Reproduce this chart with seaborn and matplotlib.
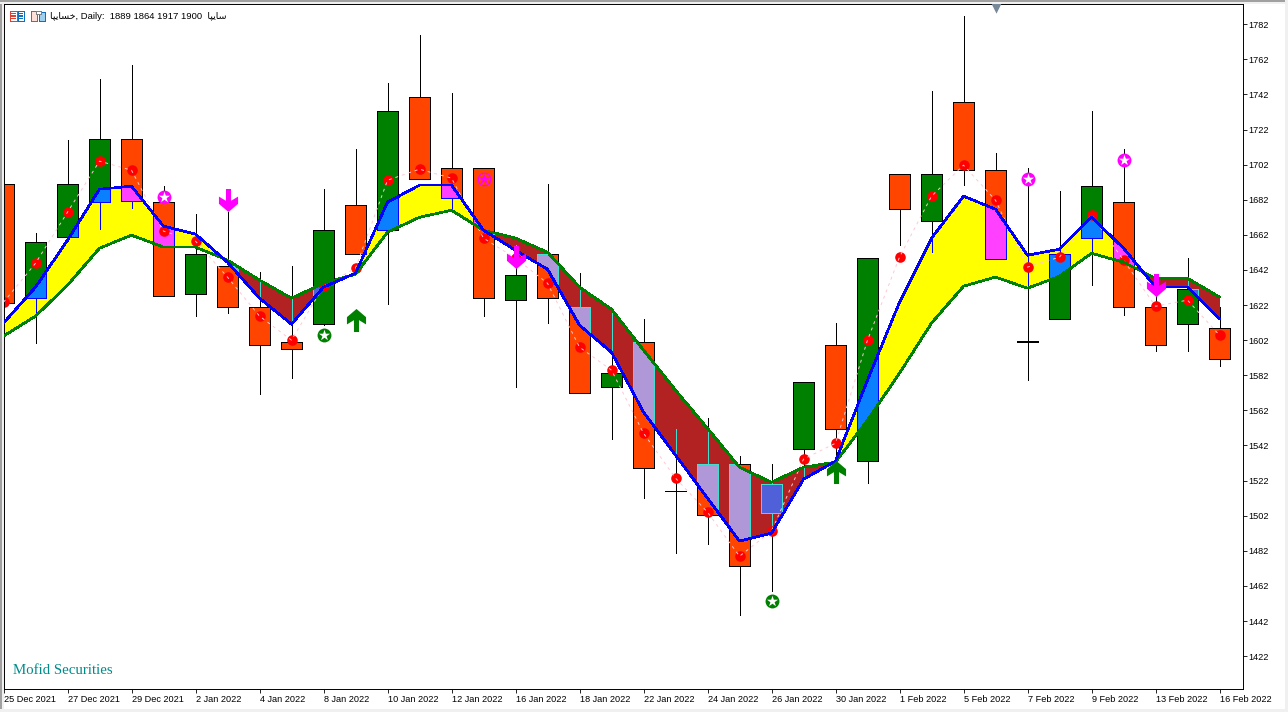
import numpy as np
import seaborn as sns
import matplotlib.pyplot as plt
from matplotlib.path import Path

# Daily candles
opens = [1690.8, 1625.9, 1660.7, 1680.6, 1716.5, 1680.6, 1628.2, 1644.1, 1620.8, 1600.8,
         1611.1, 1678.9, 1664.6, 1740.4, 1700.0, 1700.0, 1624.8, 1651.0, 1620.8, 1575.2,
         1600.8, 1515.9, 1531.3, 1531.3, 1503.4, 1539.9, 1599.1, 1533.0, 1696.5, 1669.8,
         1737.6, 1698.8, 1601.0, 1614.0, 1660.1, 1680.6, 1620.8, 1611.1, 1608.8]
highs = [1690.8, 1662.9, 1715.9, 1750.7, 1758.6, 1689.7, 1673.8, 1674.9, 1640.7, 1644.1,
         1688.0, 1710.8, 1748.4, 1775.7, 1742.7, 1700.0, 1656.1, 1690.8, 1640.1, 1619.1,
         1614.0, 1551.3, 1557.5, 1535.9, 1531.3, 1578.0, 1611.7, 1648.7, 1696.5, 1743.8,
         1786.6, 1708.5, 1700.0, 1686.9, 1732.4, 1710.8, 1630.5, 1648.7, 1620.8]
lows = [1623.1, 1600.3, 1660.7, 1665.2, 1677.2, 1627.0, 1615.7, 1617.4, 1571.2, 1580.3,
        1610.5, 1651.0, 1622.5, 1693.7, 1675.5, 1615.7, 1575.2, 1611.7, 1571.8, 1545.6,
        1512.0, 1480.6, 1485.8, 1445.3, 1459.0, 1523.4, 1535.3, 1520.5, 1656.1, 1652.1,
        1690.3, 1648.1, 1579.2, 1614.0, 1633.3, 1616.2, 1595.7, 1595.7, 1587.2]
closes = [1623.1, 1657.8, 1690.8, 1716.5, 1681.2, 1627.0, 1651.0, 1620.8, 1599.1, 1596.9,
          1664.6, 1651.0, 1732.4, 1693.7, 1682.9, 1625.9, 1639.0, 1625.9, 1571.8, 1583.2,
          1529.1, 1515.9, 1502.3, 1473.2, 1519.9, 1578.0, 1551.3, 1648.7, 1676.6, 1696.5,
          1698.8, 1648.1, 1601.8, 1651.0, 1689.7, 1620.8, 1599.1, 1631.0, 1591.2]

# Fast and slow averages that bound the band
fast_line = [1611.7, 1632.2, 1658.9, 1688.0, 1689.7, 1666.9, 1662.4, 1646.4, 1625.9, 1611.1,
             1632.2, 1640.1, 1680.6, 1690.3, 1690.3, 1664.6, 1653.2, 1642.4, 1610.5, 1595.1,
             1561.0, 1536.5, 1512.0, 1487.5, 1492.0, 1522.8, 1533.0, 1579.2, 1623.6, 1660.1,
             1684.0, 1676.6, 1650.4, 1653.8, 1672.0, 1654.4, 1632.2, 1632.2, 1614.0]
slow_line = [1604.3, 1615.7, 1633.3, 1654.4, 1661.8, 1655.0, 1655.0, 1647.6, 1636.2, 1625.9,
             1634.4, 1639.6, 1663.5, 1672.0, 1676.0, 1664.6, 1660.1, 1652.1, 1632.2, 1619.6,
             1596.3, 1573.5, 1551.8, 1529.6, 1521.1, 1529.6, 1532.5, 1556.4, 1583.2, 1611.7,
             1632.7, 1637.9, 1631.6, 1638.4, 1651.5, 1646.4, 1637.3, 1637.3, 1626.5]

# Red dots joined by the pink dashed line
dots = [1623.6, 1645.8, 1674.9, 1704.0, 1698.8, 1664.1, 1658.4, 1637.9, 1615.7, 1602.0,
        1632.7, 1643.0, 1693.1, 1699.4, 1694.3, 1660.1, 1648.7, 1634.4, 1598.0, 1584.9,
        1549.0, 1523.4, 1504.0, 1478.9, 1493.2, 1534.2, 1543.3, 1602.0, 1649.3, 1684.0,
        1701.7, 1681.7, 1643.6, 1649.3, 1673.2, 1647.6, 1621.3, 1624.8, 1604.8]

# Signals: bar number and price
up_bars, up_prices = [11, 26], [1613.4, 1526.8]
down_bars, down_prices = [7, 16, 36], [1681.7, 1649.3, 1633.3]
sell_bars, sell_prices = [5, 32, 35], [1683.4, 1693.7, 1704.5]
ring_bars, ring_prices = [15], [1693.7]
buy_bars, buy_prices = [10, 24], [1604.8, 1453.3]

date_bars = list(range(0, 39, 2))
date_labels = ['25 Dec 2021', '27 Dec 2021', '29 Dec 2021', '2 Jan 2022', '4 Jan 2022',
               '8 Jan 2022', '10 Jan 2022', '12 Jan 2022', '16 Jan 2022', '18 Jan 2022',
               '22 Jan 2022', '24 Jan 2022', '26 Jan 2022', '30 Jan 2022', '1 Feb 2022',
               '5 Feb 2022', '7 Feb 2022', '9 Feb 2022', '13 Feb 2022', '16 Feb 2022']
price_ticks = list(range(1782, 1421, -20))

# Persian words in visual order with joined forms, matplotlib does no shaping
symbol_name = '\ufe8e\ufb59\ufbfe\ufe8e\ufeb4\ufea7'
company_name = '\ufe8e\ufb59\ufbfe\ufe8e\ufeb3'
header = symbol_name + ', Daily:  1889 1864 1917 1900  ' + company_name

W, H = 1288, 712
sns.set_style('white')
plt.rcParams['font.family'] = ['Liberation Sans', 'DejaVu Sans']
fig = plt.figure(figsize=(W / 100, H / 100), dpi=100, facecolor='white')
ax = fig.add_axes([3.5 / W, 1 - 689.2 / H, 1239 / W, 685 / H])

bars = np.arange(len(opens))
opens_a, closes_a = np.array(opens), np.array(closes)
fast_a, slow_a = np.array(fast_line), np.array(slow_line)
bull = closes_a >= opens_a
body_bottom = np.minimum(opens_a, closes_a)
body_height = np.abs(closes_a - opens_a)


def draw_candles(bull_color, bear_color, edge, zorder, clip=None):
    wicks = ax.vlines(bars, lows, highs, color=edge, lw=0.55, zorder=zorder, antialiased=False)
    bodies = ax.bar(bars, body_height, bottom=body_bottom, width=0.67,
                    color=[bull_color if b else bear_color for b in bull],
                    edgecolor=edge, linewidth=0.55, zorder=zorder + 0.05, antialiased=False)
    if clip is not None:
        wicks.set_clip_path(clip, ax.transData)
        for body in bodies:
            body.set_clip_path(clip, ax.transData)


draw_candles('#008000', '#ff4500', 'black', 2)

# Band between the averages, candles get other colours inside it
up_band = ax.fill_between(bars, fast_a, slow_a, where=fast_a >= slow_a, interpolate=True,
                          color='#ffff00', lw=0, zorder=2.2, antialiased=False)
down_band = ax.fill_between(bars, fast_a, slow_a, where=fast_a <= slow_a, interpolate=True,
                            color='#b22222', lw=0, zorder=2.2, antialiased=False)
up_clip = Path.make_compound_path(*up_band.get_paths())
down_clip = Path.make_compound_path(*down_band.get_paths())
draw_candles('#0a80ff', '#ff40ff', '#0000ff', 2.3, up_clip)
draw_candles('#5060d8', '#b098d8', '#40e0d0', 2.3, down_clip)

sns.scatterplot(x=bars, y=dots, color='#ff0000', s=58, linewidth=0, zorder=2.5, ax=ax, legend=False)
sns.lineplot(x=bars, y=dots, color='#ffc8d2', lw=0.7, dashes=(3, 4), zorder=2.6, ax=ax,
             legend=False, errorbar=None)
sns.lineplot(x=bars, y=slow_line, color='#008000', lw=1.2, zorder=3, ax=ax, legend=False,
             errorbar=None, antialiased=False)
sns.lineplot(x=bars, y=fast_line, color='#0000ff', lw=1.2, zorder=3.1, ax=ax, legend=False,
             errorbar=None, antialiased=False)

# Arrow markers
down_arrow = Path([(-.22, 1), (.22, 1), (.22, -.03), (.83, .34), (.83, -.29), (0, -1),
                   (-.83, -.29), (-.83, .34), (-.22, -.03), (-.22, 1)], closed=True)
up_arrow = Path(down_arrow.vertices * [1, -1], closed=True)
sns.scatterplot(x=down_bars, y=down_prices, marker=down_arrow, s=275, color='#ff00ff',
                linewidth=0, zorder=4, ax=ax, legend=False)
sns.scatterplot(x=up_bars, y=up_prices, marker=up_arrow, s=275, color='#008000',
                linewidth=0, zorder=4, ax=ax, legend=False)

# Star signals
for xs, ys, col in ((sell_bars, sell_prices, '#ff00ff'), (buy_bars, buy_prices, '#008000')):
    sns.scatterplot(x=xs, y=ys, marker='o', s=100, color=col, linewidth=0, zorder=4, ax=ax, legend=False)
    sns.scatterplot(x=xs, y=ys, marker='*', s=70, color='white', linewidth=0, zorder=4.1, ax=ax, legend=False)
sns.scatterplot(x=ring_bars, y=ring_prices, marker='o', s=100, color='#ff00ff', linewidth=0,
                zorder=4, ax=ax, legend=False)
sns.scatterplot(x=ring_bars, y=ring_prices, marker='o', s=66, color='#ff4500', linewidth=0,
                zorder=4.1, ax=ax, legend=False)
sns.scatterplot(x=ring_bars, y=ring_prices, marker='*', s=66, color='#ff00ff', linewidth=0,
                zorder=4.2, ax=ax, legend=False)

# Small grey triangle of the chart shift
sns.scatterplot(x=[31], y=[1791.4], marker='v', s=55, color='#778899', linewidth=0, zorder=4,
                ax=ax, legend=False)

ax.set_xlim(0, 1239 / 32)
ax.set_ylim(1403.15, 1793.39)
ax.yaxis.tick_right()
ax.set_yticks(price_ticks)
ax.set_xticks(date_bars)
ax.set_xticklabels(date_labels, ha='left')
ax.tick_params(axis='both', length=3, width=0.6, color='black', labelsize=6.6, pad=1.2, labelcolor='black',
               bottom=True, right=True)
for side in ax.spines.values():
    side.set_color('black')
    side.set_linewidth(0.7)
ax.set_xlabel('')
ax.set_ylabel('')
ax.grid(False)

fig.text(13 / W, 1 - 670.5 / H, 'Mofid Securities', color='#008b8b', fontsize=10.7,
         family='Liberation Serif', va='center', ha='left')
fig.text(50.5 / W, 1 - 16.5 / H, header, color='black', fontsize=6.8, va='center', ha='left')


def rect(x, y, w, h, fc, ec='none'):
    fig.add_artist(plt.Rectangle((x / W, 1 - (y + h) / H), w / W, h / H, transform=fig.transFigure,
                                 facecolor=fc, edgecolor=ec, linewidth=0.7, antialiased=False))


# Window edges
rect(0, 0, W, 2, '#a0a0a0')
rect(0, 0, 2, H, '#a0a0a0')
rect(0, 2, W, 2, '#f0f0f0')
rect(2, 2, 2, H, '#f0f0f0')
rect(0, H - 3, W, 3, '#f0f0f0')
rect(W - 3, 0, 3, H, '#f0f0f0')

# Toolbar icons in the header
rect(9.5, 10.5, 7, 10, 'white', '#e04030')
rect(17.5, 10.5, 6, 10, 'white', '#1070c0')
for row in (13, 15.5, 18):
    rect(10.5, row, 5, 1, '#e04030')
    rect(18.5, row, 4, 1, '#1070c0')
rect(30.5, 10.5, 6, 10, '#ffe0d8', '#e04030')
rect(38.5, 12.5, 6, 8, '#a0d0f0', '#1070c0')
rect(35.5, 10.5, 5, 3, 'white', '#808080')

fig.savefig('out.png', dpi=100, facecolor='white')
